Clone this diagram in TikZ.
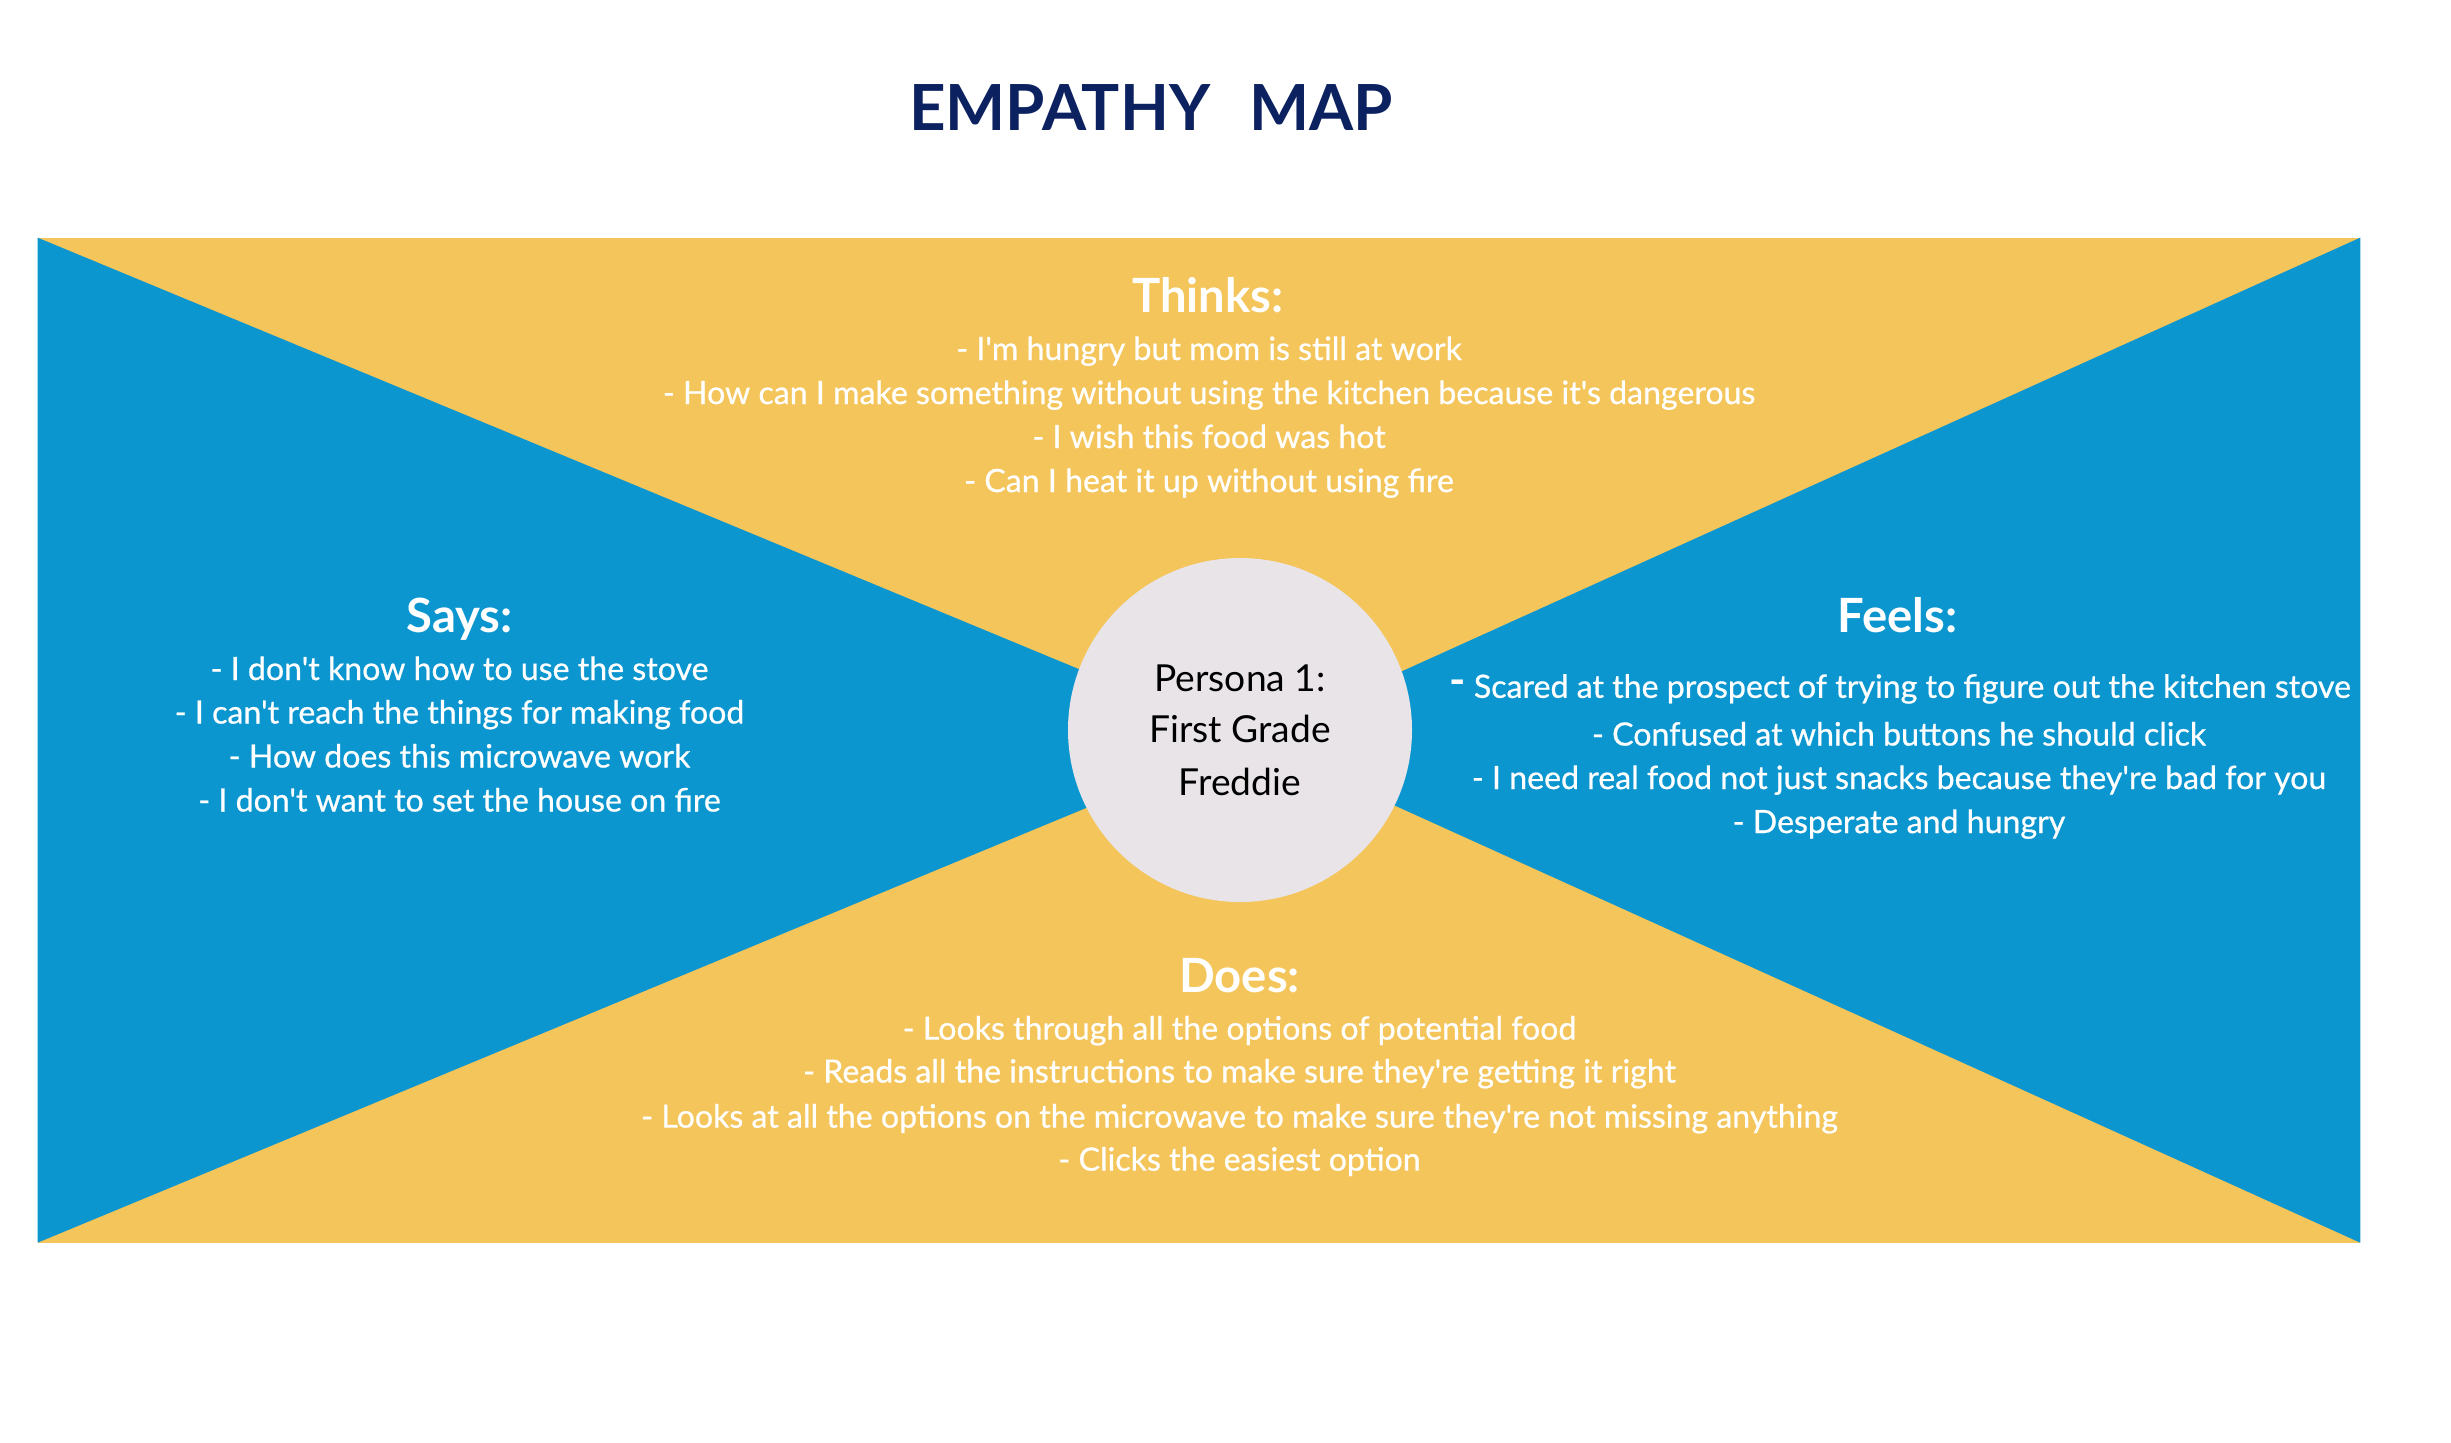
\documentclass[tikz,border=0pt]{standalone}
\usepackage{fontspec}
% families without TeX ligatures, so apostrophes stay straight
\newfontfamily\lato{Lato}
\newfontfamily\latomed{Lato}[FakeBold=0.7]
\definecolor{mapyellow}{HTML}{F4C55A}
\definecolor{mapblue}{HTML}{0B96CF}
\definecolor{hubfill}{HTML}{E8E4E8}
\definecolor{titlenavy}{HTML}{0C2160}
\begin{document}
\begin{tikzpicture}[x=0.5pt,y=-0.5pt,
  heading/.style={text=white, font=\lato\bfseries\fontsize{23.6}{27}\selectfont, anchor=base, inner sep=0pt},
  entry/.style={text=white, font=\latomed\fontsize{16.05}{19}\selectfont, anchor=base, inner sep=0pt},
  hubtext/.style={text=black, font=\lato\fontsize{18.6}{22}\selectfont, anchor=base, inner sep=0pt}]
\useasboundingbox (0,0) rectangle (2451,1442);

% quadrant panels
\coordinate (tl) at (37.5,237.6);
\coordinate (tr) at (2360.3,237.6);
\coordinate (bl) at (37.5,1242.7);
\coordinate (br) at (2360.3,1242.7);
\coordinate (apex) at (1250,740);
\fill[mapyellow] (tl) rectangle (br);
\fill[mapblue] (tl) -- (apex) -- (bl) -- cycle;
\fill[mapblue] (tr) -- (apex) -- (br) -- cycle;

% title
\node[text=titlenavy, font=\lato\bfseries\fontsize{31.8}{36}\selectfont, anchor=base, inner sep=0pt]
  (title) at (1151,130.7) {EMPATHY\hspace{19.5pt}MAP};

% persona hub
\node[circle, fill=hubfill, minimum size=172pt, inner sep=0pt] (hub) at (1240,730) {};
\node[hubtext] (hub1) at (1240,691.7) {Persona 1:};
\node[hubtext] (hub2) at (1240,742.7) {First Grade};
\node[hubtext] (hub3) at (1240,795) {Freddie};

% Thinks
\node[heading] (thinks) at (1208,312.5) {Thinks:};
\foreach [count=\i] \y/\t in {
  360/{- I'm hungry but mom is still at work},
  404/{- How can I make something without using the kitchen because it's dangerous},
  448/{- I wish this food was hot},
  492/{- Can I heat it up without using fire}}
  \node[entry] (thinks\i) at (1209,\y) {\t};

% Says
\node[heading] (says) at (459.5,632) {Says:};
\foreach [count=\i] \y/\t in {
  680/{- I don't know how to use the stove},
  723.5/{- I can't reach the things for making food},
  767.5/{- How does this microwave work},
  811.5/{- I don't want to set the house on fire}}
  \node[entry] (says\i) at (459.5,\y) {\t};

% Feels
\node[heading] (feels) at (1897.6,632) {Feels:};
\node[entry] (feels1) at (1900,697.8) {\raisebox{0.08em}{\lato\bfseries\fontsize{22}{24}\selectfont -} Scared at the prospect of trying to figure out the kitchen stove};
\foreach [count=\i from 2] \y/\t in {
  745.5/{- Confused at which buttons he should click},
  789/{- I need real food not just snacks because they're bad for you},
  833/{- Desperate and hungry}}
  \node[entry] (feels\i) at (1899,\y) {\t};

% Does
\node[heading] (does) at (1239.5,992.5) {Does:};
\foreach [count=\i] \y/\t in {
  1039.6/{- Looks through all the options of potential food},
  1082.6/{- Reads all the instructions to make sure they're getting it right},
  1127.6/{- Looks at all the options on the microwave to make sure they're not missing anything},
  1170.6/{- Clicks the easiest option}}
  \node[entry] (does\i) at (1239.5,\y) {\t};
\end{tikzpicture}
\end{document}
